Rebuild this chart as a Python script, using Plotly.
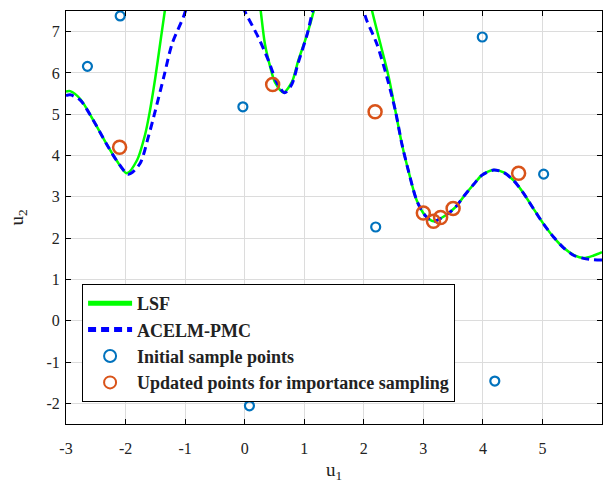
import plotly.graph_objects as go

# ---- data ----
lsf_x1 = [-3.0, -2.93, -2.76, -2.54, -2.32, -2.15, -1.98, -1.81, -1.67, -1.59, -1.50, -1.42, -1.34, -1.28]
lsf_y1 = [5.55, 5.56, 5.37, 4.85, 4.28, 3.88, 3.57, 3.88, 4.52, 5.09, 5.89, 6.70, 7.51, 8.10]
lsf_x2 = [0.22, 0.27, 0.34, 0.43, 0.51, 0.65, 0.79, 0.90, 1.05, 1.16, 1.22]
lsf_y2 = [8.10, 7.50, 6.70, 6.14, 5.77, 5.53, 5.77, 6.30, 6.94, 7.50, 7.90]
lsf_x3 = [2.10, 2.14, 2.28, 2.42, 2.53, 2.64, 2.75, 2.89, 3.03, 3.17, 3.37, 3.54, 3.70, 3.85,
          3.98, 4.18, 4.35, 4.52, 4.69, 4.85, 5.02, 5.19, 5.36, 5.53, 5.69, 5.86, 6.0]
lsf_y3 = [7.80, 7.50, 6.70, 5.89, 5.09, 4.28, 3.63, 2.91, 2.55, 2.41, 2.55, 2.75, 3.05, 3.31,
          3.52, 3.65, 3.59, 3.39, 3.07, 2.71, 2.34, 2.02, 1.76, 1.59, 1.52, 1.58, 1.66]

pmc_x1 = [-3.0, -2.93, -2.76, -2.54, -2.32, -2.15, -1.95, -1.76, -1.62, -1.50, -1.36, -1.22, -1.03, -0.95]
pmc_y1 = [5.45, 5.47, 5.34, 4.85, 4.28, 3.88, 3.55, 3.80, 4.44, 5.09, 5.89, 6.70, 7.35, 7.70]
pmc_x2 = [-0.03, 0.01, 0.23, 0.40, 0.54, 0.67, 0.79, 0.90, 1.05, 1.14, 1.20]
pmc_y2 = [7.60, 7.47, 6.86, 6.30, 5.77, 5.52, 5.72, 6.25, 6.94, 7.50, 7.90]
pmc_x3 = [2.02, 2.05, 2.22, 2.39, 2.53, 2.64, 2.75, 2.89, 3.03, 3.17, 3.37, 3.54, 3.70, 3.85,
          3.98, 4.18, 4.35, 4.52, 4.69, 4.85, 5.02, 5.19, 5.36, 5.53, 5.69, 5.86, 6.0]
pmc_y3 = [7.40, 7.27, 6.70, 5.89, 5.09, 4.28, 3.63, 2.91, 2.55, 2.41, 2.55, 2.75, 3.05, 3.31,
          3.52, 3.65, 3.59, 3.39, 3.07, 2.71, 2.34, 2.02, 1.76, 1.58, 1.51, 1.48, 1.47]

init_u1 = [-2.64, -2.09, -0.03, 0.08, 2.20, 3.99, 5.02, 4.20]
init_u2 = [6.16, 7.38, 5.18, -2.06, 2.27, 6.87, 3.55, -1.46]

upd_u1 = [-2.10, 0.47, 2.19, 3.00, 3.17, 3.29, 3.50, 4.60]
upd_u2 = [4.20, 5.72, 5.06, 2.61, 2.41, 2.50, 2.72, 3.57]

x_ticks = [-3, -2, -1, 0, 1, 2, 3, 4, 5, 6]
y_ticks = [-2, -1, 0, 1, 2, 3, 4, 5, 6, 7]


def join(*segs):
    xs, ys = [], []
    for sx, sy in segs:
        if xs:
            xs.append(None)
            ys.append(None)
        xs += sx
        ys += sy
    return xs, ys


lx, ly = join((lsf_x1, lsf_y1), (lsf_x2, lsf_y2), (lsf_x3, lsf_y3))
px, py = join((pmc_x1, pmc_y1), (pmc_x2, pmc_y2), (pmc_x3, pmc_y3))

fig = go.Figure()
fig.add_trace(go.Scatter(x=lx, y=ly, mode="lines", name="LSF",
                         line=dict(color="#00FF00", width=2.5, shape="spline", smoothing=0.8)))
fig.add_trace(go.Scatter(x=px, y=py, mode="lines", name="ACELM-PMC",
                         line=dict(color="#0000FF", width=3, dash="8px,5px", shape="spline", smoothing=0.8)))
fig.add_trace(go.Scatter(x=init_u1, y=init_u2, mode="markers", name="Initial sample points",
                         marker=dict(symbol="circle-open", size=9, color="#0072BD",
                                     line=dict(width=2.2, color="#0072BD")),
                         cliponaxis=False))
fig.add_trace(go.Scatter(x=upd_u1, y=upd_u2, mode="markers",
                         name="Updated points for importance sampling",
                         marker=dict(symbol="circle-open", size=13, color="#D95319",
                                     line=dict(width=2.5, color="#D95319")),
                         cliponaxis=False))

axis_common = dict(showline=True, linecolor="black", linewidth=1, mirror="ticks",
                   ticks="inside", ticklen=5, tickcolor="black", automargin=False,
                   showgrid=True, gridcolor="#DCDCDC", gridwidth=1, zeroline=False,
                   tickfont=dict(family="Liberation Serif", size=16, color="#222"))

fig.update_xaxes(range=[-3, 6], tickvals=x_ticks, ticktext=[str(t) for t in x_ticks],
                 ticklabelstandoff=10,
                 title=dict(text="u<sub>1</sub>", font=dict(family="Liberation Serif", size=19, color="#222"),
                            standoff=6),
                 **axis_common)
fig.update_yaxes(range=[-2.5, 7.5], tickvals=y_ticks, ticktext=[str(t) for t in y_ticks],
                 ticklabelstandoff=2,
                 title=dict(text="u<sub>2</sub>", font=dict(family="Liberation Serif", size=19, color="#222"),
                            standoff=17),
                 **axis_common)

fig.update_layout(
    width=604, height=491,
    margin=dict(l=66, r=2, t=11, b=67),
    plot_bgcolor="white", paper_bgcolor="white",
    legend=dict(x=0.03, y=0.339, xanchor="left", yanchor="top",
                bgcolor="white", bordercolor="black", borderwidth=1,
                font=dict(family="Liberation Serif", size=18, color="#222", weight="bold"),
                itemwidth=44, tracegroupgap=0, itemsizing="constant"),
)

fig.write_html("out.html", config={"displayModeBar": False},
               post_script="document.body.style.margin='0';")
